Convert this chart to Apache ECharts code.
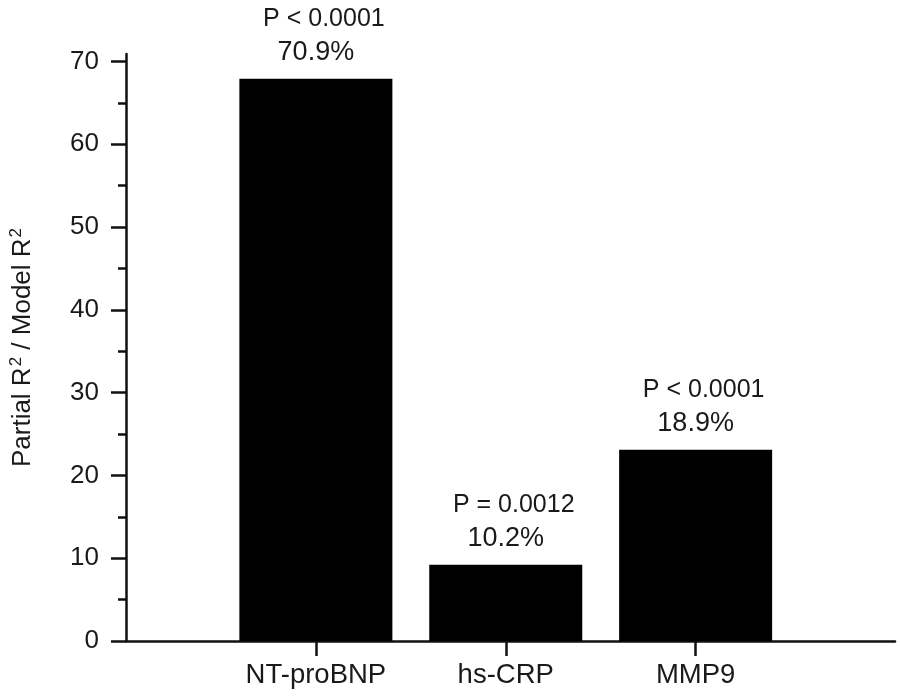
<!DOCTYPE html>
<html>
<head>
<meta charset="utf-8">
<style>
  html, body { margin: 0; padding: 0; background: #fff; }
  #chart { width: 900px; height: 698px; }
</style>
<script src="https://cdn.jsdelivr.net/npm/echarts@6/dist/echarts.min.js"></script>
</head>
<body>
<div id="chart"></div>
<script>
const categories = ['NT-proBNP', 'hs-CRP', 'MMP9'];
const values = [67.9, 9.2, 23.1];
const pLabels = ['P < 0.0001', 'P = 0.0012', 'P < 0.0001'];
const pctLabels = ['70.9%', '10.2%', '18.9%'];
const yMajorTicks = [0, 10, 20, 30, 40, 50, 60, 70];
const yMinorTicks = [5, 15, 25, 35, 45, 55, 65];
const yAxisTitle = 'Partial R{sup|2} / Model R{sup|2}';

const font = '"Liberation Sans", Arial, sans-serif';
const ink = '#1a1a1a';
const axisColor = '#111';

const chart = echarts.init(document.getElementById('chart'));
chart.setOption({
  animation: false,
  backgroundColor: '#fff',
  textStyle: { fontFamily: font, color: ink },
  grid: { left: 126, right: 5, top: 54, bottom: 57, containLabel: false },
  xAxis: {
    type: 'value',
    min: 0,
    max: 4.05,
    axisLine: { show: true, onZero: false, lineStyle: { color: axisColor, width: 2.5 } },
    axisTick: { show: true, length: 15, customValues: [1, 2, 3], lineStyle: { color: axisColor, width: 2.5 } },
    axisLabel: {
      customValues: [1, 2, 3],
      formatter: v => categories[Math.round(v) - 1] || '',
      fontSize: 27.5, color: ink, fontFamily: font, margin: 20
    },
    splitLine: { show: false }
  },
  yAxis: [
    {
      type: 'value',
      min: 0,
      max: 70.9,
      name: yAxisTitle,
      nameLocation: 'middle',
      nameGap: 88,
      nameTextStyle: {
        fontSize: 26, color: ink, fontFamily: font,
        rich: {
          sup: { fontSize: 17, verticalAlign: 'top', lineHeight: 30, color: ink, fontFamily: font, padding: [0, 0, 10, 1] }
        }
      },
      axisLine: { show: true, lineStyle: { color: axisColor, width: 2.5 } },
      axisTick: { show: true, length: 15, customValues: yMajorTicks, lineStyle: { color: axisColor, width: 2.5 } },
      axisLabel: { customValues: yMajorTicks, fontSize: 26, color: ink, fontFamily: font, margin: 27 },
      splitLine: { show: false }
    },
    {
      type: 'value',
      min: 0,
      max: 70.9,
      position: 'left',
      axisLine: { show: false },
      axisTick: { show: true, length: 8, customValues: yMinorTicks, lineStyle: { color: axisColor, width: 2.5 } },
      axisLabel: { show: false, customValues: yMinorTicks },
      splitLine: { show: false }
    }
  ],
  series: [{
    type: 'bar',
    xAxisIndex: 0,
    yAxisIndex: 0,
    barWidth: 153,
    data: categories.map((c, i) => [i + 1, values[i]]),
    itemStyle: { color: '#000' },
    label: {
      show: true,
      position: 'top',
      distance: 9,
      formatter: p => '{p|' + pLabels[p.dataIndex] + '}\n{v|' + pctLabels[p.dataIndex] + '}',
      rich: {
        p: { fontSize: 25, lineHeight: 34, color: ink, fontFamily: font, padding: [0, 0, 0, 16] },
        v: { fontSize: 27, lineHeight: 34, color: ink, fontFamily: font }
      }
    }
  }]
});
</script>
</body>
</html>
